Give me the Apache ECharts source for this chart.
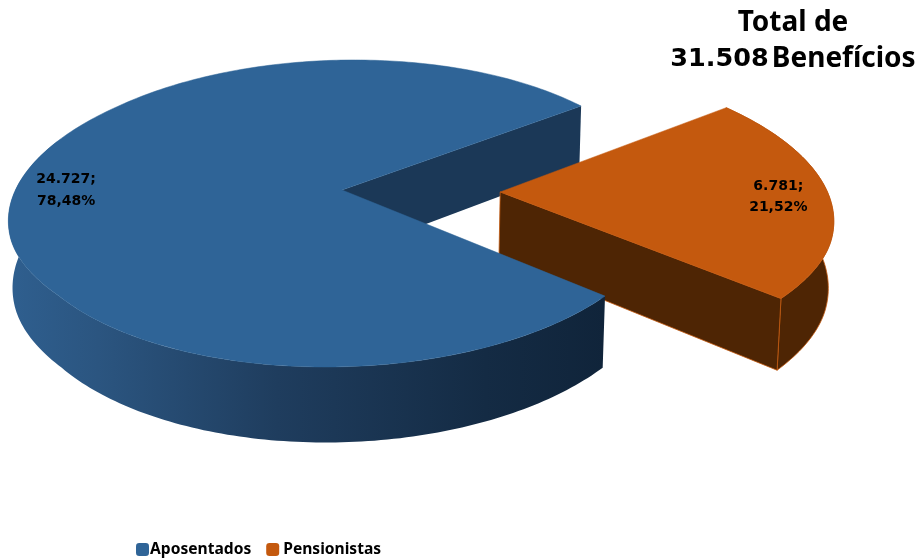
<!DOCTYPE html>
<html><head><meta charset="utf-8">
<style>html,body{margin:0;padding:0;background:#fff}#c{width:919px;height:559px}</style>
<script src="https://cdn.jsdelivr.net/npm/echarts@6/dist/echarts.min.js"></script>
</head><body><div id="c"></div>
<script>
const categories = ['Aposentados', 'Pensionistas'];
const values = [24727, 6781];
const titleHead = 'Total de';
const titleNumber = '31.508';
const titleWord = 'Benefícios';
const colors = ['#2f6497', '#c4590e'];

const FONT = '"Noto Sans", Tahoma, sans-serif';
const NUM = '"DejaVu Sans", Verdana, sans-serif';
// perspective view of the pie plane
const V = {cx: 342, cy: 190, A: 320, S: -14, B: 149.9, T: 66, k: 0.153, m: 0.008, bulge: 0.023};
const START = 39.7, OFFSETS = [[0, 0], [0.494, 0.013]], total = values.reduce((a, b) => a + b, 0);
function project(u, v, t) {
  const w = 1 - V.k * v + V.m * t;
  return [V.cx + (V.A * u + V.S * v) / w, V.cy + (V.B * v + V.T * t) / w];
}
function sliceRange(i) {
  let a = START;
  for (let j = 0; j < i; j++) a += values[j] / total * 360;
  return [a, a + values[i] / total * 360];
}
function point(a, o, t) {
  const r = a * Math.PI / 180, c = Math.cos(r), s = Math.sin(r);
  const d = s > 0.3 ? (s - 0.3) / 0.34 : (s - 0.3) / 0.915;
  const e = Math.max(0, 1 - d * d) * (1 - 0.2 * t);
  return project(o[0] + c * (1 + V.bulge * e), o[1] + s, t);
}
function rim(a0, a1, o, t) {
  const pts = [], n = Math.ceil(Math.abs(a1 - a0));
  for (let s = 0; s <= n; s++) pts.push(point(a0 + (a1 - a0) * s / n, o, t));
  return pts;
}
const poly = (points, style, z2) => ({type: 'polygon', shape: {points}, style, z2, silent: true});
const fmt = v => String(v).replace(/\B(?=(\d{3})+$)/g, '.');
const pct = v => (v / total * 100).toFixed(2).replace('.', ',') + '%';

function renderSlice(i) {
  return function (params, api) {
    const val = api.value(0);
    const [a0, a1] = sliceRange(i);
    const o = OFFSETS[i];
    const apexT = project(o[0], o[1], 0), apexB = project(o[0], o[1], 1);
    const top = [apexT].concat(rim(a0, a1, o, 0));
    const children = [];
    if (i === 0) {
      // far cut face, seen behind the exploded slice
      children.push(poly([apexT, point(a1, o, 0), point(a1, o, 1), apexB], {fill: '#1b3857'}, 1));
      const frontEnd = Math.min(a1, 200);
      const t = rim(a0, frontEnd, o, 0), b = rim(a0, frontEnd, o, 1).reverse();
      children.push(poly(t.concat(b), {
        fill: new echarts.graphic.LinearGradient(1, 0, 0, 0, [
          {offset: 0, color: '#10243a'}, {offset: 0.2, color: '#142b44'},
          {offset: 0.55, color: '#1f3d5e'}, {offset: 0.85, color: '#2b5580'}, {offset: 1, color: '#2f5f8f'}
        ])
      }, 7));
      children.push(poly(top, {fill: colors[0], stroke: colors[0], lineWidth: 0.5}, 8));
    } else {
      const t = rim(a0, a1, o, 0), b = rim(a0, a1, o, 1).reverse();
      const wallStyle = {fill: '#4e2504', stroke: '#c4590e', lineWidth: 0.8};
      children.push(poly(t.concat(b), wallStyle, 3));
      // near cut face of the exploded slice
      children.push(poly([apexT, point(a1, o, 0), point(a1, o, 1), apexB], wallStyle, 4));
      children.push(poly(top, {fill: colors[1], stroke: colors[1], lineWidth: 0.5}, 5));
    }
    const mid = (a0 + a1) / 2 * Math.PI / 180;
    const lp = project(o[0] + 0.865 * Math.cos(mid), o[1] + 0.865 * Math.sin(mid), 0);
    children.push({
      type: 'text', z2: 10, silent: true, x: lp[0], y: lp[1] + 2.5,
      style: {text: fmt(val) + ';\n' + pct(val), align: 'center', verticalAlign: 'middle',
        fill: '#000', font: 'bold 14px ' + NUM, lineHeight: 21.5}
    });
    return {type: 'group', children};
  };
}

const chart = echarts.init(document.getElementById('c'), null, {renderer: 'canvas'});
chart.setOption({
  animation: false,
  backgroundColor: '#fff',
  title: {
    text: '{a|' + titleHead + '}\n{d|' + titleNumber + '}{s| }{a|' + titleWord + '}',
    left: 788, top: 0, textAlign: 'center',
    textStyle: {
      rich: {
        a: {fontFamily: FONT, fontWeight: 'bold', fontSize: 28, color: '#000', lineHeight: 36},
        d: {fontFamily: NUM, fontWeight: 'bold', fontSize: 25.5, color: '#000', lineHeight: 36},
        s: {fontFamily: FONT, fontWeight: 'bold', fontSize: 12, color: '#000', lineHeight: 36}
      }
    }
  },
  legend: {
    data: categories.map((name, i) => ({name, textStyle: {padding: i ? [0, 0, 0, -1] : [0, 0, 0, -4]}})),
    left: 131, top: 536.5, icon: 'roundRect', itemWidth: 13, itemHeight: 13, itemGap: 15,
    selectedMode: false,
    textStyle: {fontFamily: FONT, fontWeight: 'bold', fontSize: 15.6, color: '#000'}
  },
  series: categories.map((name, i) => ({
    type: 'custom', name, coordinateSystem: 'none',
    itemStyle: {color: colors[i]},
    data: [[values[i]]],
    renderItem: renderSlice(i)
  }))
});
</script></body></html>
